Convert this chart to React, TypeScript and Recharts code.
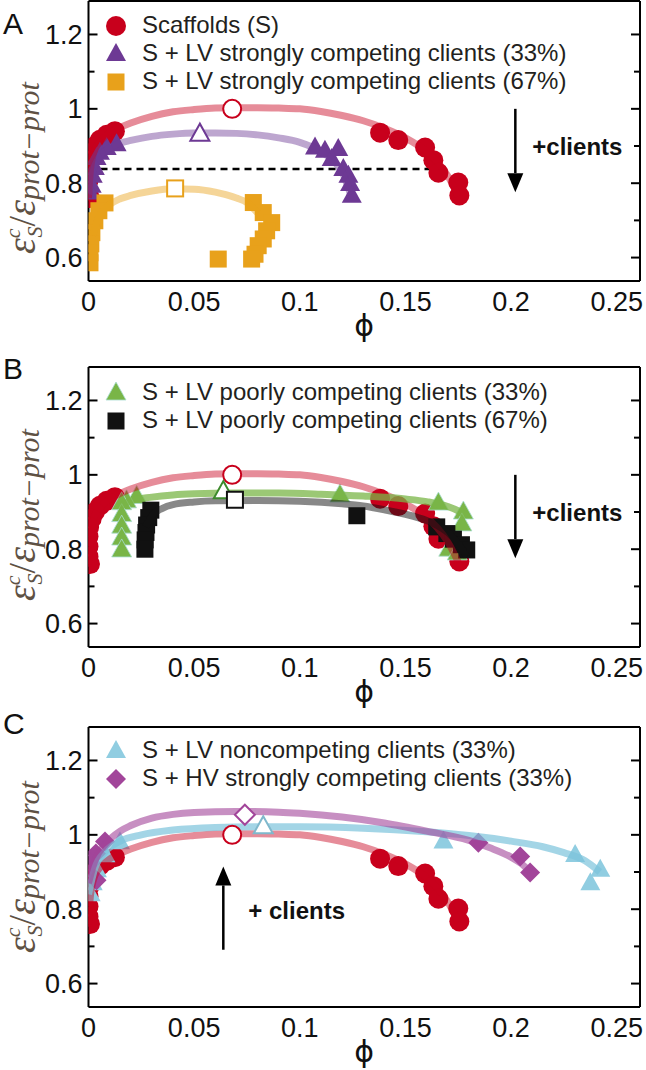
import React from 'react';
import { ScatterChart, Scatter, XAxis, YAxis, Legend, ReferenceLine, ReferenceDot } from 'recharts';

const FONT = '"Liberation Sans", Arial, Helvetica, sans-serif';
const SERIF = '"Liberation Serif", "DejaVu Serif", serif';

// ---------- axes ----------
const xDomain: [number, number] = [0, 0.261];
const yDomain: [number, number] = [0.537, 1.29];
const xMajorTicks = [0, 0.05, 0.1, 0.15, 0.2, 0.25];
const xMinorTicks = [0.025, 0.075, 0.125, 0.175, 0.225];
const yMajorTicks = [0.6, 0.8, 1, 1.2];
const yMinorTicks = [0.7, 0.9, 1.1];
const xTitle = 'ϕ';
const panelLetters = ['A', 'B', 'C'];

// ---------- series names ----------
const nameScaffold = 'Scaffolds (S)';
const nameStrong33 = 'S + LV strongly competing clients (33%)';
const nameStrong67 = 'S + LV strongly competing clients (67%)';
const namePoor33 = 'S + LV poorly competing clients (33%)';
const namePoor67 = 'S + LV poorly competing clients (67%)';
const nameNon33 = 'S + LV noncompeting clients (33%)';
const nameHV33 = 'S + HV strongly competing clients (33%)';
const legendOrder = [nameScaffold, nameStrong33, nameStrong67, namePoor33, namePoor67, nameNon33, nameHV33];

// ---------- scaffolds ----------
const scaffoldX = [0.0125, 0.0086, 0.0054, 0.003, 0.0015, 0.0003, 0, 0, 0, 0.0007, 0.138, 0.1466, 0.1593, 0.1632, 0.1656, 0.175, 0.1755];
const scaffoldY = [0.94, 0.93, 0.917, 0.9, 0.882, 0.86, 0.834, 0.807, 0.78, 0.76, 0.936, 0.916, 0.896, 0.862, 0.828, 0.802, 0.767];
const scaffoldCritX = [0.068];
const scaffoldCritY = [1.0];
const scaffoldCurveX = [0, 0.001, 0.003, 0.006, 0.01, 0.015, 0.02, 0.03, 0.04, 0.05, 0.06, 0.07, 0.08, 0.09, 0.1, 0.11, 0.12, 0.13, 0.14, 0.15, 0.16, 0.165, 0.17, 0.175];
const scaffoldCurveY = [0.76, 0.84, 0.89, 0.915, 0.935, 0.95, 0.962, 0.98, 0.992, 0.998, 1.002, 1.003, 1.003, 1.002, 1.0, 0.993, 0.982, 0.968, 0.948, 0.922, 0.885, 0.858, 0.82, 0.765];

// ---------- panel A ----------
const strong33X = [0.0133, 0.0086, 0.0054, 0.0038, 0.003, 0.002, 0.0015, 0.0007, 0.1072, 0.1119, 0.1182, 0.1151, 0.1206, 0.123, 0.1238, 0.1246];
const strong33Y = [0.905, 0.895, 0.882, 0.868, 0.841, 0.82, 0.793, 0.775, 0.896, 0.887, 0.892, 0.865, 0.838, 0.82, 0.798, 0.766];
const strong33CritX = [0.0527];
const strong33CritY = [0.932];
const strong33CurveX = [0, 0.002, 0.005, 0.01, 0.015, 0.02, 0.03, 0.04, 0.05, 0.06, 0.07, 0.08, 0.09, 0.1, 0.11, 0.115, 0.12, 0.124];
const strong33CurveY = [0.77, 0.83, 0.87, 0.895, 0.908, 0.915, 0.926, 0.932, 0.935, 0.935, 0.934, 0.93, 0.922, 0.91, 0.885, 0.865, 0.83, 0.77];

const strong67X = [0.0078, 0.0049, 0.003, 0.0016, 0.0011, 0.0007, 0.0007, 0.078, 0.0827, 0.0867, 0.0843, 0.0827, 0.0803, 0.0788, 0.0772, 0.0614];
const strong67Y = [0.747, 0.726, 0.699, 0.667, 0.637, 0.613, 0.586, 0.748, 0.721, 0.694, 0.672, 0.65, 0.632, 0.609, 0.596, 0.596];
const strong67CritX = [0.041];
const strong67CritY = [0.786];
const strong67CurveX = [0.002, 0.005, 0.01, 0.015, 0.02, 0.03, 0.04, 0.05, 0.06, 0.065, 0.07, 0.075, 0.08];
const strong67CurveY = [0.66, 0.71, 0.742, 0.758, 0.767, 0.779, 0.785, 0.784, 0.776, 0.769, 0.76, 0.748, 0.72];

const dashY = 0.838;
const dashEndX = 0.167;

// ---------- panel B ----------
const poor33X = [0.0228, 0.018, 0.0157, 0.0157, 0.0157, 0.0157, 0.0157, 0.119, 0.1656, 0.1774, 0.1767, 0.1705, 0.1745];
const poor33Y = [0.942, 0.93, 0.925, 0.893, 0.862, 0.83, 0.798, 0.946, 0.924, 0.9, 0.868, 0.8, 0.79];
const poor33CritX = [0.0638];
const poor33CritY = [0.955];
const poor33CurveX = [0.014, 0.02, 0.03, 0.04, 0.05, 0.07, 0.09, 0.11, 0.13, 0.15, 0.16, 0.17, 0.175, 0.179];
const poor33CurveY = [0.91, 0.93, 0.94, 0.946, 0.949, 0.951, 0.951, 0.948, 0.943, 0.935, 0.928, 0.915, 0.903, 0.888];

const poor67X = [0.0295, 0.0285, 0.0275, 0.0272, 0.0268, 0.0267, 0.127, 0.1648, 0.1696, 0.1727, 0.1765, 0.179];
const poor67Y = [0.905, 0.885, 0.865, 0.845, 0.825, 0.8, 0.89, 0.86, 0.842, 0.827, 0.812, 0.798];
const poor67CritX = [0.0693];
const poor67CritY = [0.933];
const poor67CurveX = [0.027, 0.03, 0.035, 0.04, 0.05, 0.06, 0.08, 0.1, 0.12, 0.13, 0.14, 0.15, 0.16, 0.165, 0.17, 0.175, 0.179];
const poor67CurveY = [0.86, 0.89, 0.91, 0.92, 0.927, 0.93, 0.931, 0.929, 0.922, 0.916, 0.906, 0.894, 0.877, 0.864, 0.845, 0.815, 0.78];

// ---------- panel C ----------
const non33X = [0.0149, 0.008, 0.004, 0.002, 0.001, 0.168, 0.2303, 0.2422, 0.2375];
const non33Y = [0.98, 0.945, 0.905, 0.87, 0.84, 0.982, 0.946, 0.906, 0.87];
const non33CritX = [0.0827];
const non33CritY = [1.022];
const non33CurveX = [0, 0.003, 0.008, 0.015, 0.025, 0.04, 0.06, 0.08, 0.1, 0.13, 0.16, 0.18, 0.2, 0.215, 0.225, 0.235, 0.242];
const non33CurveY = [0.84, 0.91, 0.955, 0.983, 1.0, 1.013, 1.02, 1.022, 1.022, 1.018, 1.008, 0.998, 0.983, 0.968, 0.952, 0.93, 0.9];

const hv33X = [0.0078, 0.0035, 0.001, 0.0005, 0.0038, 0.1845, 0.2043, 0.209];
const hv33Y = [0.982, 0.95, 0.925, 0.895, 0.878, 0.979, 0.942, 0.899];
const hv33CritX = [0.074];
const hv33CritY = [1.054];
const hv33CurveX = [0, 0.003, 0.008, 0.015, 0.02, 0.03, 0.04, 0.05, 0.07, 0.09, 0.1, 0.12, 0.14, 0.16, 0.18, 0.19, 0.2, 0.205, 0.209];
const hv33CurveY = [0.87, 0.93, 0.975, 1.01, 1.025, 1.045, 1.055, 1.06, 1.063, 1.061, 1.058, 1.048, 1.032, 1.01, 0.985, 0.965, 0.94, 0.922, 0.9];

// ---------- annotations ----------
const arrowDownX = 0.202;
const arrowDownFrom = 1.0;
const arrowDownTo = 0.776;
const clientsDownY = 0.898;
const clientsDownText = '+clients';
const arrowUpX = 0.0638;
const arrowUpFrom = 0.691;
const arrowUpTo = 0.915;
const clientsUpY = 0.798;
const clientsUpText = '+ clients';

// ---------- colours ----------
const RED = '#c8001c';
const PURPLE = '#6d3994';
const ORANGE = '#e8a11b';
const GREEN = '#79b547';
const BLACK = '#111111';
const BLUE = '#90cde1';
const MAGENTA = '#a2459a';
const LABEL_COLOR = '#5e5144';

const zip = (xs: number[], ys: number[]) => xs.map((x, i) => ({ x, y: ys[i] }));

// ---------- shapes ----------
const triPts = (cx: number, cy: number, s: number) =>
  `${cx},${cy - s * 1.1} ${cx - s},${cy + s * 0.7} ${cx + s},${cy + s * 0.7}`;
const diaPts = (cx: number, cy: number, s: number) =>
  `${cx},${cy - s} ${cx + s},${cy} ${cx},${cy + s} ${cx - s},${cy}`;

function marker(type: string, color: string, cx: number, cy: number, open = false, edge?: string) {
  const fill = open ? '#fff' : color;
  const stroke = open ? color : edge || 'none';
  const sw = open ? 2 : edge ? 0.8 : 0;
  switch (type) {
    case 'circle':
      return <circle cx={cx} cy={cy} r={open ? 9 : 10} fill={fill} stroke={stroke} strokeWidth={sw} />;
    case 'triangle':
      return <polygon points={triPts(cx, cy, open ? 9.5 : 10)} fill={fill} stroke={stroke} strokeWidth={sw} />;
    case 'square': {
      const h = open ? 8 : 8.5;
      return <rect x={cx - h} y={cy - h} width={2 * h} height={2 * h} fill={fill} stroke={stroke} strokeWidth={sw} />;
    }
    case 'diamond':
      return <polygon points={diaPts(cx, cy, 10)} fill={fill} stroke={stroke} strokeWidth={sw} />;
    default:
      return <g />;
  }
}

const shapeOf = (type: string, color: string, open = false, edge?: string) => (p: any) =>
  p && p.cx != null ? marker(type, color, p.cx, p.cy, open, edge) : <g />;
const noShape = () => <g />;
const emptyTick = () => <g />;

const edgeOf = (c: string) => (c === GREEN ? '#a9ddd2' : undefined);

const arrowShape = (p: any) => {
  const { x1, y1, x2, y2 } = p;
  const dir = y2 > y1 ? 1 : -1;
  const headLen = 19;
  const half = 8;
  return (
    <g>
      <line x1={x1} y1={y1} x2={x2} y2={y2 - dir * headLen} stroke="#000" strokeWidth={2.5} />
      <polygon points={`${x2},${y2} ${x2 - half},${y2 - dir * headLen} ${x2 + half},${y2 - dir * headLen}`} fill="#000" />
    </g>
  );
};

const renderLegend = (props: any) => {
  const payload = (props.payload || [])
    .filter((e: any) => e.type && e.type !== 'none')
    .slice()
    .sort((a: any, b: any) => legendOrder.indexOf(a.value) - legendOrder.indexOf(b.value));
  return (
    <div style={{ display: 'flex', flexDirection: 'column' }}>
      {payload.map((e: any, i: number) => (
        <div key={i} style={{ display: 'flex', alignItems: 'center', height: 28 }}>
          <svg width={24} height={24} style={{ display: 'block' }}>
            {marker(e.type, e.color, 12, 13, false, edgeOf(e.color))}
          </svg>
          <span style={{ marginLeft: 14, fontSize: 24, fontFamily: FONT, color: '#231f20', whiteSpace: 'nowrap', lineHeight: '28px' }}>
            {e.value}
          </span>
        </div>
      ))}
    </div>
  );
};

const yLabel = (shift: number) => (props: any) => {
  const vb = props.viewBox || { x: 0, y: 0, width: 0, height: 0 };
  const cx = 35;
  const cy = vb.y + vb.height / 2 + shift;
  return (
    <text transform={`rotate(-90 ${cx} ${cy})`} x={cx} y={cy} textAnchor="middle" fill={LABEL_COLOR} fontFamily={SERIF} fontStyle="italic">
      <tspan fontSize={40}>ε</tspan>
      <tspan fontSize={22} dy={-15}>c</tspan>
      <tspan fontSize={22} dx={-9} dy={22}>S</tspan>
      <tspan fontSize={38} fontStyle="normal" dy={-7}>/</tspan>
      <tspan fontSize={40}>ε</tspan>
      <tspan fontSize={30} dy={4}>prot−prot</tspan>
    </text>
  );
};

const xLabel = (props: any) => {
  const vb = props.viewBox || { x: 0, y: 0, width: 0, height: 0 };
  return (
    <text x={vb.x + vb.width / 2} y={vb.y + 55} textAnchor="middle" fontSize={30} fontFamily='"DejaVu Sans", sans-serif' fill="#111">
      {xTitle}
    </text>
  );
};

const AX = { stroke: '#000', strokeWidth: 2 };
const TICK_FONT = { fontSize: 27, fill: '#111', fontFamily: FONT };
const THIN = 0.01;

function frameAxes(labelShift: number) {
  return [
    // labelled axes (bottom, left)
    <XAxis key="x" xAxisId="x" dataKey="x" type="number" orientation="bottom" domain={xDomain} allowDataOverflow ticks={xMajorTicks} interval={0}
      tickSize={0} tickMargin={11} height={64} tick={TICK_FONT} tickLine={false} axisLine={AX} label={xLabel} />,
    <YAxis key="l" yAxisId="l" dataKey="y" type="number" orientation="left" domain={yDomain} allowDataOverflow ticks={yMajorTicks} interval={0}
      tickSize={0} tickMargin={6} width={88.5} tick={TICK_FONT} tickLine={false} axisLine={AX} label={yLabel(labelShift)} />,
    // inward tick marks and frame (mirrored axes)
    <XAxis key="bM" xAxisId="bM" type="number" orientation="bottom" mirror domain={xDomain} allowDataOverflow ticks={xMajorTicks} interval={0}
      tickSize={9} tick={emptyTick} tickLine={AX} axisLine={false} height={THIN} />,
    <XAxis key="bm" xAxisId="bm" type="number" orientation="bottom" mirror domain={xDomain} allowDataOverflow ticks={xMinorTicks} interval={0}
      tickSize={6} tick={emptyTick} tickLine={AX} axisLine={false} height={THIN} />,
    <XAxis key="tM" xAxisId="tM" type="number" orientation="top" mirror domain={xDomain} allowDataOverflow ticks={xMajorTicks} interval={0}
      tickSize={9} tick={emptyTick} tickLine={AX} axisLine={AX} height={THIN} />,
    <XAxis key="tm" xAxisId="tm" type="number" orientation="top" mirror domain={xDomain} allowDataOverflow ticks={xMinorTicks} interval={0}
      tickSize={6} tick={emptyTick} tickLine={AX} axisLine={false} height={THIN} />,
    <YAxis key="lM" yAxisId="lM" type="number" orientation="left" mirror domain={yDomain} allowDataOverflow ticks={yMajorTicks} interval={0}
      tickSize={9} tick={emptyTick} tickLine={AX} axisLine={false} width={THIN} />,
    <YAxis key="lm" yAxisId="lm" type="number" orientation="left" mirror domain={yDomain} allowDataOverflow ticks={yMinorTicks} interval={0}
      tickSize={6} tick={emptyTick} tickLine={AX} axisLine={false} width={THIN} />,
    <YAxis key="rM" yAxisId="rM" type="number" orientation="right" mirror domain={yDomain} allowDataOverflow ticks={yMajorTicks} interval={0}
      tickSize={9} tick={emptyTick} tickLine={AX} axisLine={AX} width={THIN} />,
    <YAxis key="rm" yAxisId="rm" type="number" orientation="right" mirror domain={yDomain} allowDataOverflow ticks={yMinorTicks} interval={0}
      tickSize={6} tick={emptyTick} tickLine={AX} axisLine={false} width={THIN} />,
  ];
}

function pointsSeries(key: string, name: string, data: any[], type: string, color: string, inLegend: boolean) {
  return (
    <Scatter key={key} name={name} xAxisId="x" yAxisId="l" data={data} fill={color}
      legendType={inLegend ? (type as any) : 'none'} shape={shapeOf(type, color, false, edgeOf(color))} isAnimationActive={false} />
  );
}
function curveSeries(key: string, data: any[], color: string, opacity: number) {
  return (
    <Scatter key={key} xAxisId="x" yAxisId="l" data={data} fill="none" legendType="none" shape={noShape}
      line={{ stroke: color, strokeWidth: 7, strokeOpacity: opacity, fill: 'none', strokeLinecap: 'butt' } as any}
      lineType="joint" lineJointType="monotoneX" isAnimationActive={false} />
  );
}
function openSeries(key: string, data: any[], type: string, color: string) {
  return (
    <Scatter key={key} xAxisId="x" yAxisId="l" data={data} fill={color} legendType="none" shape={shapeOf(type, color, true)} isAnimationActive={false} />
  );
}

function clientsLabel(text: string, dx: number) {
  return (p: any) => {
    const vb = p.viewBox || { x: 0, y: 0 };
    return (
      <text x={vb.x + dx} y={vb.y} dy="0.36em" fontSize={24} fontWeight={700} fontFamily={FONT} fill="#111">{text}</text>
    );
  };
}

const W = 646;
const PLOT_H = 280;
const X_AXIS_H = 64;

function Panel({ top, marginTop, legendTop, labelShift, children }: any) {
  return (
    <div style={{ position: 'absolute', left: 0, top }}>
      <ScatterChart width={W} height={marginTop + PLOT_H + X_AXIS_H} margin={{ top: marginTop, right: 6, bottom: 0, left: 0 }}>
        {frameAxes(labelShift)}
        <Legend layout="vertical" align="center" verticalAlign="middle" content={renderLegend}
          wrapperStyle={{ left: 104, top: legendTop, width: 500, height: 'auto' }} />
        {children}
      </ScatterChart>
    </div>
  );
}

const letterStyle = (top: number): React.CSSProperties => ({
  position: 'absolute', left: 3, top, fontSize: 30, lineHeight: '30px', fontFamily: FONT, color: '#111',
});

export default function App() {
  const scaffold = zip(scaffoldX, scaffoldY);
  const scaffoldCrit = zip(scaffoldCritX, scaffoldCritY);
  const scaffoldCurve = zip(scaffoldCurveX, scaffoldCurveY);
  return (
    <div style={{ position: 'absolute', left: 0, top: 0, width: W, height: 1070, overflow: 'hidden', background: '#fff' }}>
      <div style={letterStyle(9)}>{panelLetters[0]}</div>
      <div style={letterStyle(354)}>{panelLetters[1]}</div>
      <div style={letterStyle(709)}>{panelLetters[2]}</div>

      <Panel top={0} marginTop={1} legendTop={11} labelShift={27}>
        {pointsSeries('s', nameScaffold, scaffold, 'circle', RED, true)}
        {pointsSeries('p', nameStrong33, zip(strong33X, strong33Y), 'triangle', PURPLE, true)}
        {pointsSeries('o', nameStrong67, zip(strong67X, strong67Y), 'square', ORANGE, true)}
        {curveSeries('sc', scaffoldCurve, RED, 0.45)}
        {curveSeries('pc', zip(strong33CurveX, strong33CurveY), PURPLE, 0.45)}
        {curveSeries('oc', zip(strong67CurveX, strong67CurveY), ORANGE, 0.45)}
        {openSeries('so', scaffoldCrit, 'circle', RED)}
        {openSeries('po', zip(strong33CritX, strong33CritY), 'triangle', PURPLE)}
        {openSeries('oo', zip(strong67CritX, strong67CritY), 'square', ORANGE)}
        <ReferenceLine xAxisId="x" yAxisId="l" segment={[{ x: 0, y: dashY }, { x: dashEndX, y: dashY }]} stroke="#000" strokeWidth={2.5} strokeDasharray="7 5" />
        <ReferenceLine xAxisId="x" yAxisId="l" segment={[{ x: arrowDownX, y: arrowDownFrom }, { x: arrowDownX, y: arrowDownTo }]} shape={arrowShape} />
        <ReferenceDot xAxisId="x" yAxisId="l" x={arrowDownX} y={clientsDownY} r={0} fill="none" stroke="none" label={clientsLabel(clientsDownText, 17)} />
      </Panel>

      <Panel top={360} marginTop={7} legendTop={18} labelShift={8}>
        {pointsSeries('s', nameScaffold, scaffold, 'circle', RED, false)}
        {pointsSeries('g', namePoor33, zip(poor33X, poor33Y), 'triangle', GREEN, true)}
        {pointsSeries('k', namePoor67, zip(poor67X, poor67Y), 'square', BLACK, true)}
        {curveSeries('sc', scaffoldCurve, RED, 0.45)}
        {curveSeries('gc', zip(poor33CurveX, poor33CurveY), GREEN, 0.75)}
        {curveSeries('kc', zip(poor67CurveX, poor67CurveY), BLACK, 0.5)}
        {openSeries('so', scaffoldCrit, 'circle', RED)}
        {openSeries('go', zip(poor33CritX, poor33CritY), 'triangle', '#3c8a2c')}
        {openSeries('ko', zip(poor67CritX, poor67CritY), 'square', BLACK)}
        <ReferenceLine xAxisId="x" yAxisId="l" segment={[{ x: arrowDownX, y: arrowDownFrom }, { x: arrowDownX, y: arrowDownTo }]} shape={arrowShape} />
        <ReferenceDot xAxisId="x" yAxisId="l" x={arrowDownX} y={clientsDownY} r={0} fill="none" stroke="none" label={clientsLabel(clientsDownText, 17)} />
      </Panel>

      <Panel top={720} marginTop={7} legendTop={16} labelShift={0}>
        {pointsSeries('s', nameScaffold, scaffold, 'circle', RED, false)}
        {pointsSeries('b', nameNon33, zip(non33X, non33Y), 'triangle', BLUE, true)}
        {pointsSeries('m', nameHV33, zip(hv33X, hv33Y), 'diamond', MAGENTA, true)}
        {curveSeries('sc', scaffoldCurve, RED, 0.45)}
        {curveSeries('bc', zip(non33CurveX, non33CurveY), '#7cc3dc', 0.7)}
        {curveSeries('mc', zip(hv33CurveX, hv33CurveY), MAGENTA, 0.6)}
        {openSeries('so', scaffoldCrit, 'circle', RED)}
        {openSeries('bo', zip(non33CritX, non33CritY), 'triangle', '#7fb8cc')}
        {openSeries('mo', zip(hv33CritX, hv33CritY), 'diamond', MAGENTA)}
        <ReferenceLine xAxisId="x" yAxisId="l" segment={[{ x: arrowUpX, y: arrowUpFrom }, { x: arrowUpX, y: arrowUpTo }]} shape={arrowShape} />
        <ReferenceDot xAxisId="x" yAxisId="l" x={arrowUpX} y={clientsUpY} r={0} fill="none" stroke="none" label={clientsLabel(clientsUpText, 25)} />
      </Panel>
    </div>
  );
}
